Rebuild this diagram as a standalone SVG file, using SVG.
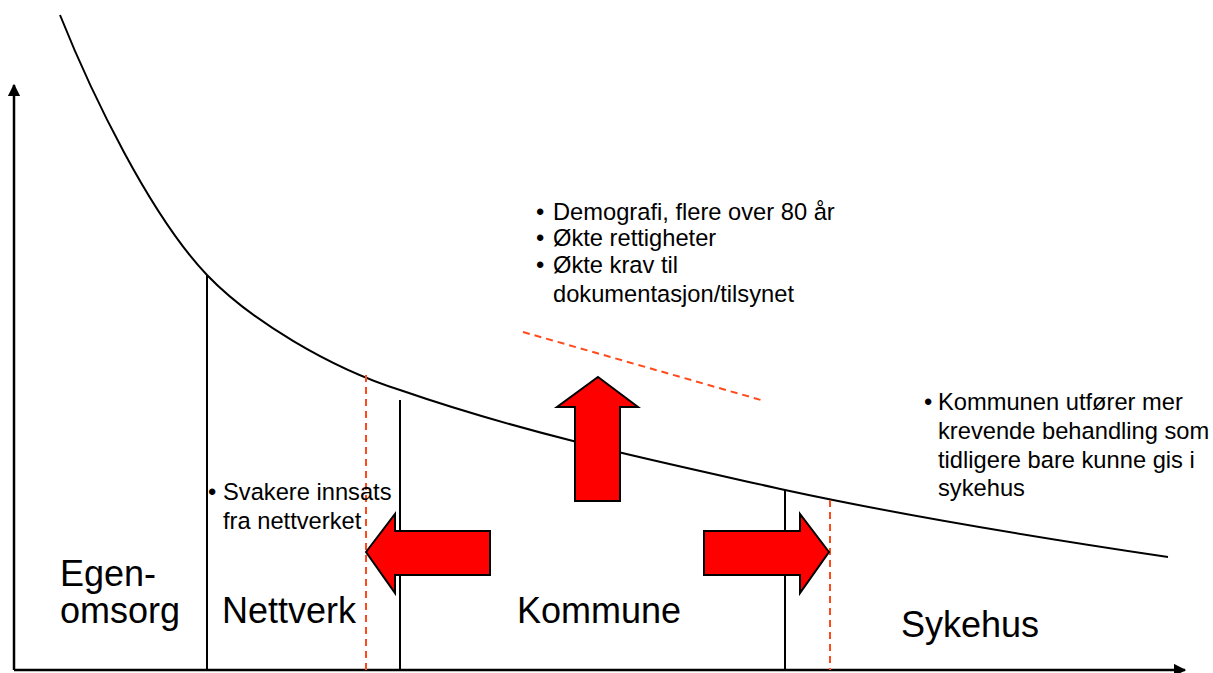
<svg xmlns="http://www.w3.org/2000/svg" width="1213" height="673" viewBox="0 0 1213 673">
<style>
.ax{stroke:#000;stroke-width:2.5;fill:none}
.sol{stroke:#000;stroke-width:2;fill:none}
.dash{stroke:#FF4A1C;stroke-width:2;stroke-dasharray:7,5;fill:none}
.arr{fill:#FF0000;stroke:#000;stroke-width:2;stroke-linejoin:miter}
.big{font-family:"Liberation Sans",Arial,sans-serif;font-size:36px;fill:#000}
.sm{font-family:"Liberation Sans",Arial,sans-serif;font-size:23.7px;fill:#000}
</style>
<defs>
<marker id="ah" viewBox="0 0 10 10" refX="9" refY="5" markerWidth="5" markerHeight="5" orient="auto" markerUnits="strokeWidth">
<path d="M0,0 L10,5 L0,10 z" fill="#000"/>
</marker>
</defs>
<rect width="1213" height="673" fill="#fff"/>
<g id="connectors">
<line class="ax" x1="14" y1="670" x2="14" y2="85" marker-end="url(#ah)"/>
<line class="ax" x1="14" y1="670" x2="1185" y2="670" marker-end="url(#ah)"/>
<path class="sol" d="M60,15 C92,95 150,215 207,275 C250,320 330,368 400,390 C530,435 660,462 785,490 C910,517 1040,538 1168,557"/>
<line class="sol" x1="207" y1="275" x2="207" y2="670"/>
<line class="sol" x1="400" y1="400" x2="400" y2="670"/>
<line class="sol" x1="785" y1="490" x2="785" y2="670"/>
<line class="dash" x1="366" y1="375" x2="366" y2="670"/>
<line class="dash" x1="830" y1="500" x2="830" y2="670"/>
<line class="dash" x1="523" y1="332" x2="761" y2="400"/>
</g>
<g id="arrow-left"><polygon class="arr" points="366,552 395,514 395,531 490,531 490,575 395,575 395,593"/></g>
<g id="arrow-right"><polygon class="arr" points="829,552 800,514 800,531 704,531 704,575 800,575 800,593"/></g>
<g id="arrow-up"><polygon class="arr" points="598,377 638,407 620,407 620,501 575,501 575,407 557,407"/></g>
<g id="egenomsorg"><text class="big" x="60" y="586">Egen-</text><text class="big" x="60" y="623">omsorg</text></g>
<g id="nettverk"><text class="big" x="222" y="623">Nettverk</text></g>
<g id="kommune"><text class="big" x="517" y="623">Kommune</text></g>
<g id="sykehus"><text class="big" x="901" y="637">Sykehus</text></g>
<g id="note-top">
<text class="sm" x="536" y="220">•</text><text class="sm" x="553" y="220">Demografi, flere over 80 år</text>
<text class="sm" x="536" y="246">•</text><text class="sm" x="553" y="246">Økte rettigheter</text>
<text class="sm" x="536" y="273">•</text><text class="sm" x="553" y="273">Økte krav til</text>
<text class="sm" x="553" y="302">dokumentasjon/tilsynet</text>
</g>
<g id="note-right">
<text class="sm" x="924" y="410">•</text><text class="sm" x="938" y="410">Kommunen utfører mer</text>
<text class="sm" x="938" y="439">krevende behandling som</text>
<text class="sm" x="938" y="468">tidligere bare kunne gis i</text>
<text class="sm" x="938" y="496">sykehus</text>
</g>
<g id="note-left">
<text class="sm" x="208" y="500">•</text><text class="sm" x="223" y="500">Svakere innsats</text>
<text class="sm" x="223" y="529">fra nettverket</text>
</g>
</svg>
